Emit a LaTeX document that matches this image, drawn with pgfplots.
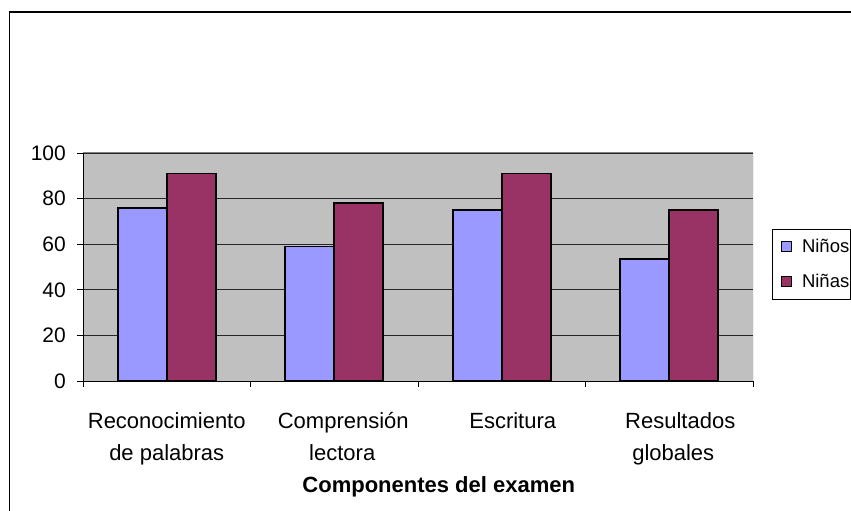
\documentclass[border=0pt]{standalone}
\usepackage{pgfplots}
\pgfplotsset{compat=1.18}
\usepackage{fontspec}
\setmainfont{Liberation Sans}
\definecolor{ninos}{HTML}{9999FF}
\definecolor{ninas}{HTML}{993366}
\definecolor{plotbg}{HTML}{C0C0C0}
\definecolor{frame}{HTML}{808080}
\begin{document}
\begin{tikzpicture}[x=1pt,y=1pt]
\useasboundingbox (0,0) rectangle (851,511);
\fill[white] (0,0) rectangle (851,511);
\draw[line width=1.6pt] (9.5,-2) -- (9.5,499) -- (853,499);
\begin{axis}[
  at={(83pt,130pt)}, anchor=south west,
  scale only axis, width=670pt, height=228pt,
  xmin=0, xmax=4, ymin=0, ymax=100,
  ybar=0pt, bar width=49pt,
  axis background/.style={fill=plotbg},
  axis x line*=bottom, axis y line*=left,
  axis line style={black, line width=0.9pt},
  ytick={0,20,...,100},
  ymajorgrids, major grid style={black!85, line width=0.8pt},
  xtick={0.5,1.5,2.5,3.5},
  xticklabels={{Reconocimiento\\de palabras},{\hspace*{18pt}Comprensión\\\hspace*{16pt}lectora},{\hspace*{22pt}Escritura},{\hspace*{22pt}Resultados\\\hspace*{8pt}globales}},
  minor xtick={0,1,2,3,4},
  tick align=outside,
  major tick length=6pt, minor tick length=6pt,
  major x tick style={draw=none},
  tick style={black, line width=0.9pt},
  /pgf/number format/assume math mode=true,
  yticklabel style={font={\fontsize{21}{25}\selectfont}, anchor=east, inner sep=0pt, xshift=-11pt},
  xticklabel style={font={\fontsize{22}{32.5}\selectfont}, align=center, anchor=north, inner sep=0pt, yshift=-25pt},
  xlabel={\textbf{Componentes del examen}},
  xlabel style={font={\fontsize{22}{26}\selectfont}, at={(axis description cs:0.531,-0.491)}, anchor=base, inner sep=0pt},
  legend style={at={(axis description cs:1.0284,0.6667)}, anchor=north west, draw=black, line width=0.8pt,
    font={\fontsize{18.5}{20}\selectfont}, inner xsep=0pt, inner ysep=9pt, row sep=18pt, column sep=10pt,
    nodes={inner xsep=0pt, inner ysep=1pt}},
  legend cell align=left,
  legend image code/.code={\path (0pt,0pt) (18pt,0pt); \draw[#1, line width=1pt] (8pt,-5pt) rectangle (18pt,5pt);},
]
\addplot[draw=black, line width=1.6pt, fill=ninos] coordinates {(0.5,76) (1.5,59) (2.5,75) (3.5,53.5)};
\addplot[draw=black, line width=1.6pt, fill=ninas] coordinates {(0.5,91) (1.5,78) (2.5,91) (3.5,75)};
\legend{Niños\hspace*{1pt},Niñas\hspace*{1pt}}
\draw[frame, line width=1pt] (axis cs:0,100) -- (axis cs:4,100) -- (axis cs:4,0);
\end{axis}
\end{tikzpicture}
\end{document}
